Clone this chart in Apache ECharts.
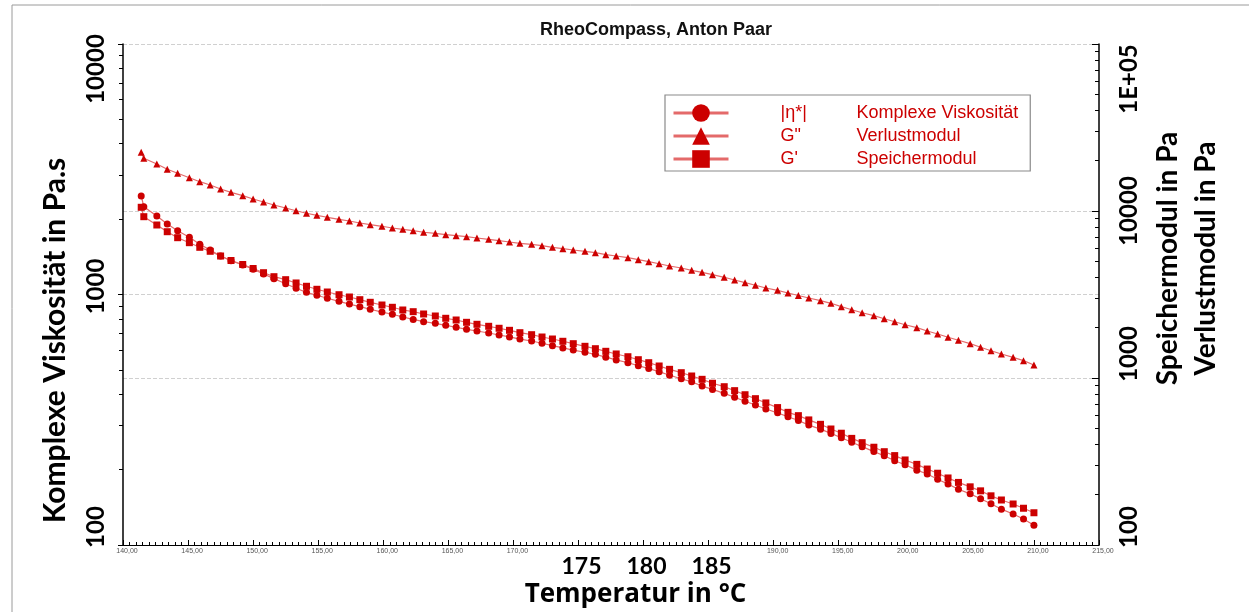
<!DOCTYPE html>
<html>
<head>
<meta charset="utf-8">
<script src="https://cdn.jsdelivr.net/npm/echarts@6/dist/echarts.min.js"></script>
<style>
  html, body { margin: 0; padding: 0; background: #fff; }
  #chart { width: 1249px; height: 612px; }
</style>
</head>
<body>
<div id="chart"></div>
<script>
// Temperatur in °C
const temps = [141.4, 141.6, 142.6, 143.4, 144.2, 145.1, 145.9, 146.7, 147.5, 148.3,
  149.2, 150.0, 150.8, 151.6, 152.5, 153.3, 154.1, 154.9, 155.7, 156.6,
  157.4, 158.2, 159.0, 159.9, 160.7, 161.5, 162.3, 163.1, 164.0, 164.8,
  165.6, 166.4, 167.2, 168.1, 168.9, 169.7, 170.5, 171.4, 172.2, 173.0,
  173.8, 174.6, 175.5, 176.3, 177.1, 177.9, 178.8, 179.6, 180.4, 181.2,
  182.0, 182.9, 183.7, 184.5, 185.3, 186.2, 187.0, 187.8, 188.6, 189.4,
  190.3, 191.1, 191.9, 192.7, 193.6, 194.4, 195.2, 196.0, 196.8, 197.7,
  198.5, 199.3, 200.1, 201.0, 201.8, 202.6, 203.4, 204.2, 205.1, 205.9,
  206.7, 207.5, 208.4, 209.2, 210.0]

// |η*| Komplexe Viskosität, Pa.s (linke Achse)
const eta = [2473, 2241, 2058, 1911, 1797, 1692, 1586, 1505, 1424, 1364,
  1312, 1261, 1207, 1157, 1104, 1059, 1020, 993, 966, 939,
  916, 894, 873, 851, 834, 813, 795, 779, 767, 753,
  740, 726, 715, 702, 689, 677, 664, 652, 639, 625,
  612, 600, 588, 577, 562, 548, 534, 520, 506, 492,
  476, 461, 448, 431, 418, 403, 389, 375, 362, 349,
  337, 325, 314, 301, 290, 279, 268, 257, 247, 236,
  227, 217, 209, 199, 192, 183, 175, 167, 160, 153,
  146, 139, 133, 127, 120]

// G'' Verlustmodul, Pa (rechte Achse)
const lossModulus = [22460, 20690, 19120, 17770, 16820, 15830, 14980, 14310, 13540, 12940,
  12350, 11800, 11320, 10860, 10420, 10040, 9690, 9425, 9170, 8920,
  8710, 8475, 8280, 8100, 7910, 7770, 7620, 7460, 7355, 7215,
  7115, 7017, 6892, 6770, 6640, 6522, 6406, 6318, 6197, 6061,
  5946, 5840, 5737, 5627, 5474, 5376, 5252, 5109, 4970, 4834,
  4684, 4556, 4414, 4294, 4155, 4009, 3863, 3722, 3591, 3459,
  3351, 3228, 3119, 3013, 2903, 2801, 2673, 2564, 2460, 2361,
  2265, 2173, 2085, 2001, 1911, 1834, 1753, 1682, 1605, 1527,
  1457, 1393, 1330, 1270, 1196]

// G' Speichermodul, Pa (rechte Achse)
const storageModulus = [10525, 9245, 8245, 7516, 6921, 6460, 6061, 5737, 5376, 5052,
  4781, 4525, 4271, 4043, 3879, 3707, 3542, 3398, 3273, 3153,
  3055, 2944, 2840, 2736, 2651, 2554, 2495, 2417, 2351, 2278,
  2225, 2155, 2097, 2040, 1985, 1930, 1868, 1817, 1760, 1712,
  1659, 1605, 1548, 1498, 1445, 1393, 1341, 1287, 1235, 1180,
  1127, 1076, 1028, 982, 930, 887, 840, 794, 752, 709,
  665, 623, 595, 561, 528, 495, 467, 435, 410, 385,
  362, 343, 323, 304, 285, 269, 252, 237, 223, 211,
  197, 186, 176, 166, 156]

// Achsenbeschriftungen
const leftTickLabels = {100: '100', 1000: '1000', 10000: '10000'}
const rightTickLabels = {100: '100', 1000: '1000', 10000: '10000', 100000: '1E+05'}
const bigXLabels = [175, 180, 185]
const leftMinorTicks = [200, 300, 400, 500, 600, 700, 800, 900,
  2000, 3000, 4000, 5000, 6000, 7000, 8000, 9000]
const rightMinorTicks = [200, 300, 400, 500, 600, 700, 800, 900,
  2000, 3000, 4000, 5000, 6000, 7000, 8000, 9000,
  20000, 30000, 40000, 50000, 60000, 70000, 80000, 90000]

const seriesNames = ['Komplexe Viskosität', 'Verlustmodul', 'Speichermodul']
const legendSymbols = ['|η*|', 'G"', "G'"]

const lineColor = '#e46a6a'
const markColor = '#cc0000'
const boldFont = 'Lato'

const chart = echarts.init(document.getElementById('chart'))

const makeSeries = (idx, values, axis, symbol, size) => ({
  name: seriesNames[idx],
  type: 'line',
  yAxisIndex: axis,
  data: temps.map((t, i) => [t, values[i]]),
  symbol: symbol,
  symbolSize: size,
  showAllSymbol: true,
  lineStyle: {color: lineColor, width: 1.2},
  itemStyle: {color: markColor}
})

// zusätzliche Achse nur für logarithmische Nebenstriche
const minorAxis = (max, position, ticks, inside) => ({
  type: 'log',
  logBase: 10,
  min: 100,
  max: max,
  position: position,
  axisLine: {show: false},
  axisLabel: {show: false},
  splitLine: {show: false},
  axisTick: {show: true, inside: inside, length: 4, customValues: ticks, lineStyle: {color: '#000'}}
})

const option = {
  animation: false,
  backgroundColor: '#fff',
  title: {
    text: 'RheoCompass, Anton Paar',
    left: 535,
    top: 16,
    textStyle: {fontFamily: 'Liberation Sans', fontWeight: 'bold', fontSize: 18, color: '#111'}
  },
  legend: {
    orient: 'vertical',
    left: 665,
    top: 95,
    padding: [9, 12, 3, 7],
    itemWidth: 55,
    itemHeight: 22,
    itemGap: 5,
    borderColor: '#8a8a8a',
    borderWidth: 1.2,
    lineStyle: {width: 3},
    data: seriesNames,
    formatter: name => `{s|${legendSymbols[seriesNames.indexOf(name)]}}{n|${name}}`,
    textStyle: {
      color: markColor,
      fontFamily: 'Liberation Sans',
      fontSize: 18,
      rich: {
        s: {width: 76, padding: [0, 0, 0, 47], color: markColor, fontSize: 18, fontFamily: 'Liberation Sans'},
        n: {width: 177, color: markColor, fontSize: 18, fontFamily: 'Liberation Sans'}
      }
    }
  },
  grid: {left: 123, right: 150, top: 44, bottom: 67, containLabel: false, outerBoundsMode: 'none'},
  xAxis: {
    type: 'value',
    min: 140,
    max: 215,
    interval: 5,
    axisLine: {lineStyle: {color: '#000', width: 1}},
    axisTick: {inside: true, length: 5, lineStyle: {color: '#000'}},
    minorTick: {show: true, splitNumber: 10, length: 3, lineStyle: {color: '#000'}},
    splitLine: {show: false},
    axisLabel: {
      margin: 3,
      formatter: v => bigXLabels.includes(v) ? `{b|${v}}` : `{s|${v.toFixed(2).replace('.', ',')}}`,
      rich: {
        s: {fontSize: 7, color: '#555', fontFamily: 'Liberation Sans', padding: [0, 0, 0, 8]},
        b: {fontSize: 23, fontWeight: 'bold', color: '#000', fontFamily: boldFont, padding: [7, 0, 0, 6]}
      }
    },
    name: 'Temperatur in °C',
    nameLocation: 'middle',
    nameGap: 37,
    nameMoveOverlap: false,
    nameTextStyle: {fontSize: 26, fontWeight: 'bold', color: '#000', fontFamily: 'Open Sans', padding: [0, 0, 0, 49]}
  },
  yAxis: [
    {
      type: 'log',
      logBase: 10,
      min: 100,
      max: 10000,
      position: 'left',
      axisLine: {show: true, lineStyle: {color: '#000', width: 1.5}},
      axisTick: {show: true, inside: false, length: 5, lineStyle: {color: '#000'}},
      splitLine: {show: true, showMinLine: false, showMaxLine: true, lineStyle: {type: 'dashed', color: '#d0d0d0'}},
      axisLabel: {
        rotate: 90,
        margin: 15,
        fontSize: 24,
        fontWeight: 'bold',
        fontFamily: boldFont,
        color: '#000',
        formatter: v => `{t${Math.round(v)}|${leftTickLabels[Math.round(v)]}}`,
        rich: {
          t10000: {padding: [0, 50, 0, 0]},
          t1000: {padding: [0, 0, 0, 16]},
          t100: {padding: [0, 0, 0, 36]}
        }
      },
      name: 'Komplexe Viskosität in Pa.s',
      nameLocation: 'middle',
      nameRotate: 90,
      nameGap: 53,
      nameMoveOverlap: false,
      nameTextStyle: {fontSize: 30, fontWeight: 'bold', color: '#000', fontFamily: boldFont, padding: [0, 92, 0, 0]}
    },
    {
      type: 'log',
      logBase: 10,
      min: 100,
      max: 100000,
      position: 'right',
      axisLine: {show: true, lineStyle: {color: '#000', width: 1.5}},
      axisTick: {show: true, inside: true, length: 7, lineStyle: {color: '#000'}},
      splitLine: {show: true, showMinLine: false, showMaxLine: false, lineStyle: {type: 'dashed', color: '#d0d0d0'}},
      axisLabel: {
        rotate: 90,
        margin: 18,
        fontSize: 24,
        fontWeight: 'bold',
        fontFamily: boldFont,
        color: '#000',
        formatter: v => `{t${Math.round(v)}|${rightTickLabels[Math.round(v)]}}`,
        rich: {
          t100000: {padding: [0, 70, 0, 0]},
          t10000: {padding: [0, 0, 0, 0]},
          t1000: {padding: [0, 0, 0, 48]},
          t100: {padding: [0, 0, 0, 36]}
        }
      },
      name: 'Speichermodul in Pa\nVerlustmodul in Pa',
      nameLocation: 'middle',
      nameRotate: 90,
      nameGap: 50,
      nameMoveOverlap: false,
      nameTextStyle: {fontSize: 28, lineHeight: 38, fontWeight: 'bold', color: '#000', fontFamily: boldFont, padding: [0, 0, 0, 72]}
    },
    minorAxis(10000, 'left', leftMinorTicks, false),
    minorAxis(100000, 'right', rightMinorTicks, true)
  ],
  graphic: [
    {
      type: 'polyline',
      silent: true,
      shape: {points: [[12, 612], [12, 5], [1249, 5]]},
      style: {stroke: '#9a9a9a', lineWidth: 1, fill: null}
    }
  ],
  series: [
    makeSeries(0, eta, 0, 'circle', 7),
    makeSeries(1, lossModulus, 1, 'triangle', 7),
    makeSeries(2, storageModulus, 1, 'rect', 7)
  ]
}

chart.setOption(option)
</script>
</body>
</html>
